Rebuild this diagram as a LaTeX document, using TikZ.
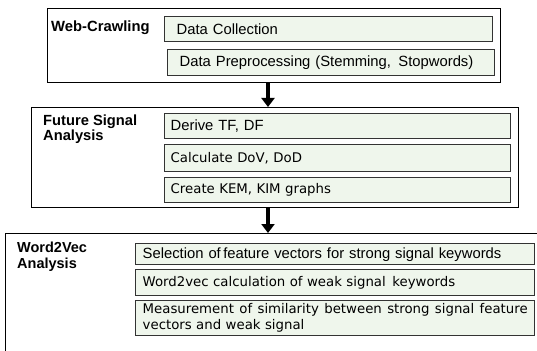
\documentclass[tikz,border=0pt]{standalone}
\usepackage{fontspec}
\setmainfont{Liberation Sans}
\newfontfamily\kfont{DejaVu Sans}
\usetikzlibrary{arrows.meta}
\definecolor{boxfill}{HTML}{EFF6EC}
\definecolor{boxline}{HTML}{333333}
\begin{document}
\begin{tikzpicture}[x=1pt,y=-1pt,
  outerbox/.style={draw=black, line width=1pt, anchor=north west, inner sep=0pt},
  inbox/.style={draw=boxline, fill=boxfill, line width=1.4pt, anchor=north west,
    inner ysep=0pt, align=left},
  arial/.style={font=\fontsize{14.8}{17}\selectfont},
  korean/.style={font=\kfont\fontsize{13.3}{16}\selectfont},
  lbl/.style={anchor=north west, inner sep=0pt, align=left},
  bigarrow/.style={-{Triangle[width=13pt,length=9pt]}, line width=4.8pt}
]
\useasboundingbox (0,0) rectangle (537,350);

% Stage 1
\node[outerbox, minimum width=453pt, minimum height=74pt] (o1) at (47,8) {};
\node[lbl, font=\bfseries\fontsize{14.8}{17}\selectfont] (l1) at (51,21) {Web-Crawling};
\node[inbox, arial, inner xsep=12pt, text width=304pt, minimum height=25pt] (dc) at (164,16) {Data Collection};
\node[inbox, arial, inner xsep=12pt, text width=303pt, minimum height=26pt] (dp) at (167,49) {Data Preprocessing (Stemming,\ \,Stopwords)};

% Stage 2
\node[outerbox, minimum width=487pt, minimum height=100pt] (o2) at (31,107) {};
\node[lbl, font=\bfseries\fontsize{14.7}{12.7}\selectfont] (l2) at (43,115) {Future Signal\\Analysis};
\node[inbox, arial, inner xsep=6pt, text width=334pt, minimum height=25pt] (tf) at (164,113) {Derive TF, DF};
\node[inbox, korean, inner xsep=6pt, text width=334pt, minimum height=27pt] (dov) at (164,144) {Calculate DoV, DoD};
\node[inbox, korean, inner xsep=6pt, text width=334pt, minimum height=25pt] (kem) at (164,177) {Create KEM, KIM graphs};

% Stage 3 (box runs past the right and bottom edges)
\draw[black, line width=1pt] (5,352) -- (5,233) -- (539,233);
\coordinate (o3top) at (268,233);
\node[lbl, font=\bfseries\fontsize{14.5}{16}\selectfont] (l3) at (17,242) {Word2Vec\\Analysis};
\node[inbox, arial, inner xsep=7pt, text width=385pt, minimum height=21pt] (sel) at (135,243) {Selection of\,feature vectors for strong signal keywords};
\node[inbox, korean, inner xsep=7pt, text width=385pt, minimum height=26pt] (w2v) at (135,269) {Word2vec calculation of weak signal \,keywords};
\node[inbox, korean, inner xsep=7pt, text width=385pt, minimum height=35pt] (sim) at (135,300) {\hbox to 385pt{Measurement\hfill of\hfill similarity\hfill between\hfill strong\hfill signal\hfill feature}\\vectors and weak signal};

% Arrows
\draw[bigarrow] (o1.south -| o3top) -- (o2.north -| o3top);
\draw[bigarrow] (o2.south -| o3top) -- (o3top);
\end{tikzpicture}
\end{document}
